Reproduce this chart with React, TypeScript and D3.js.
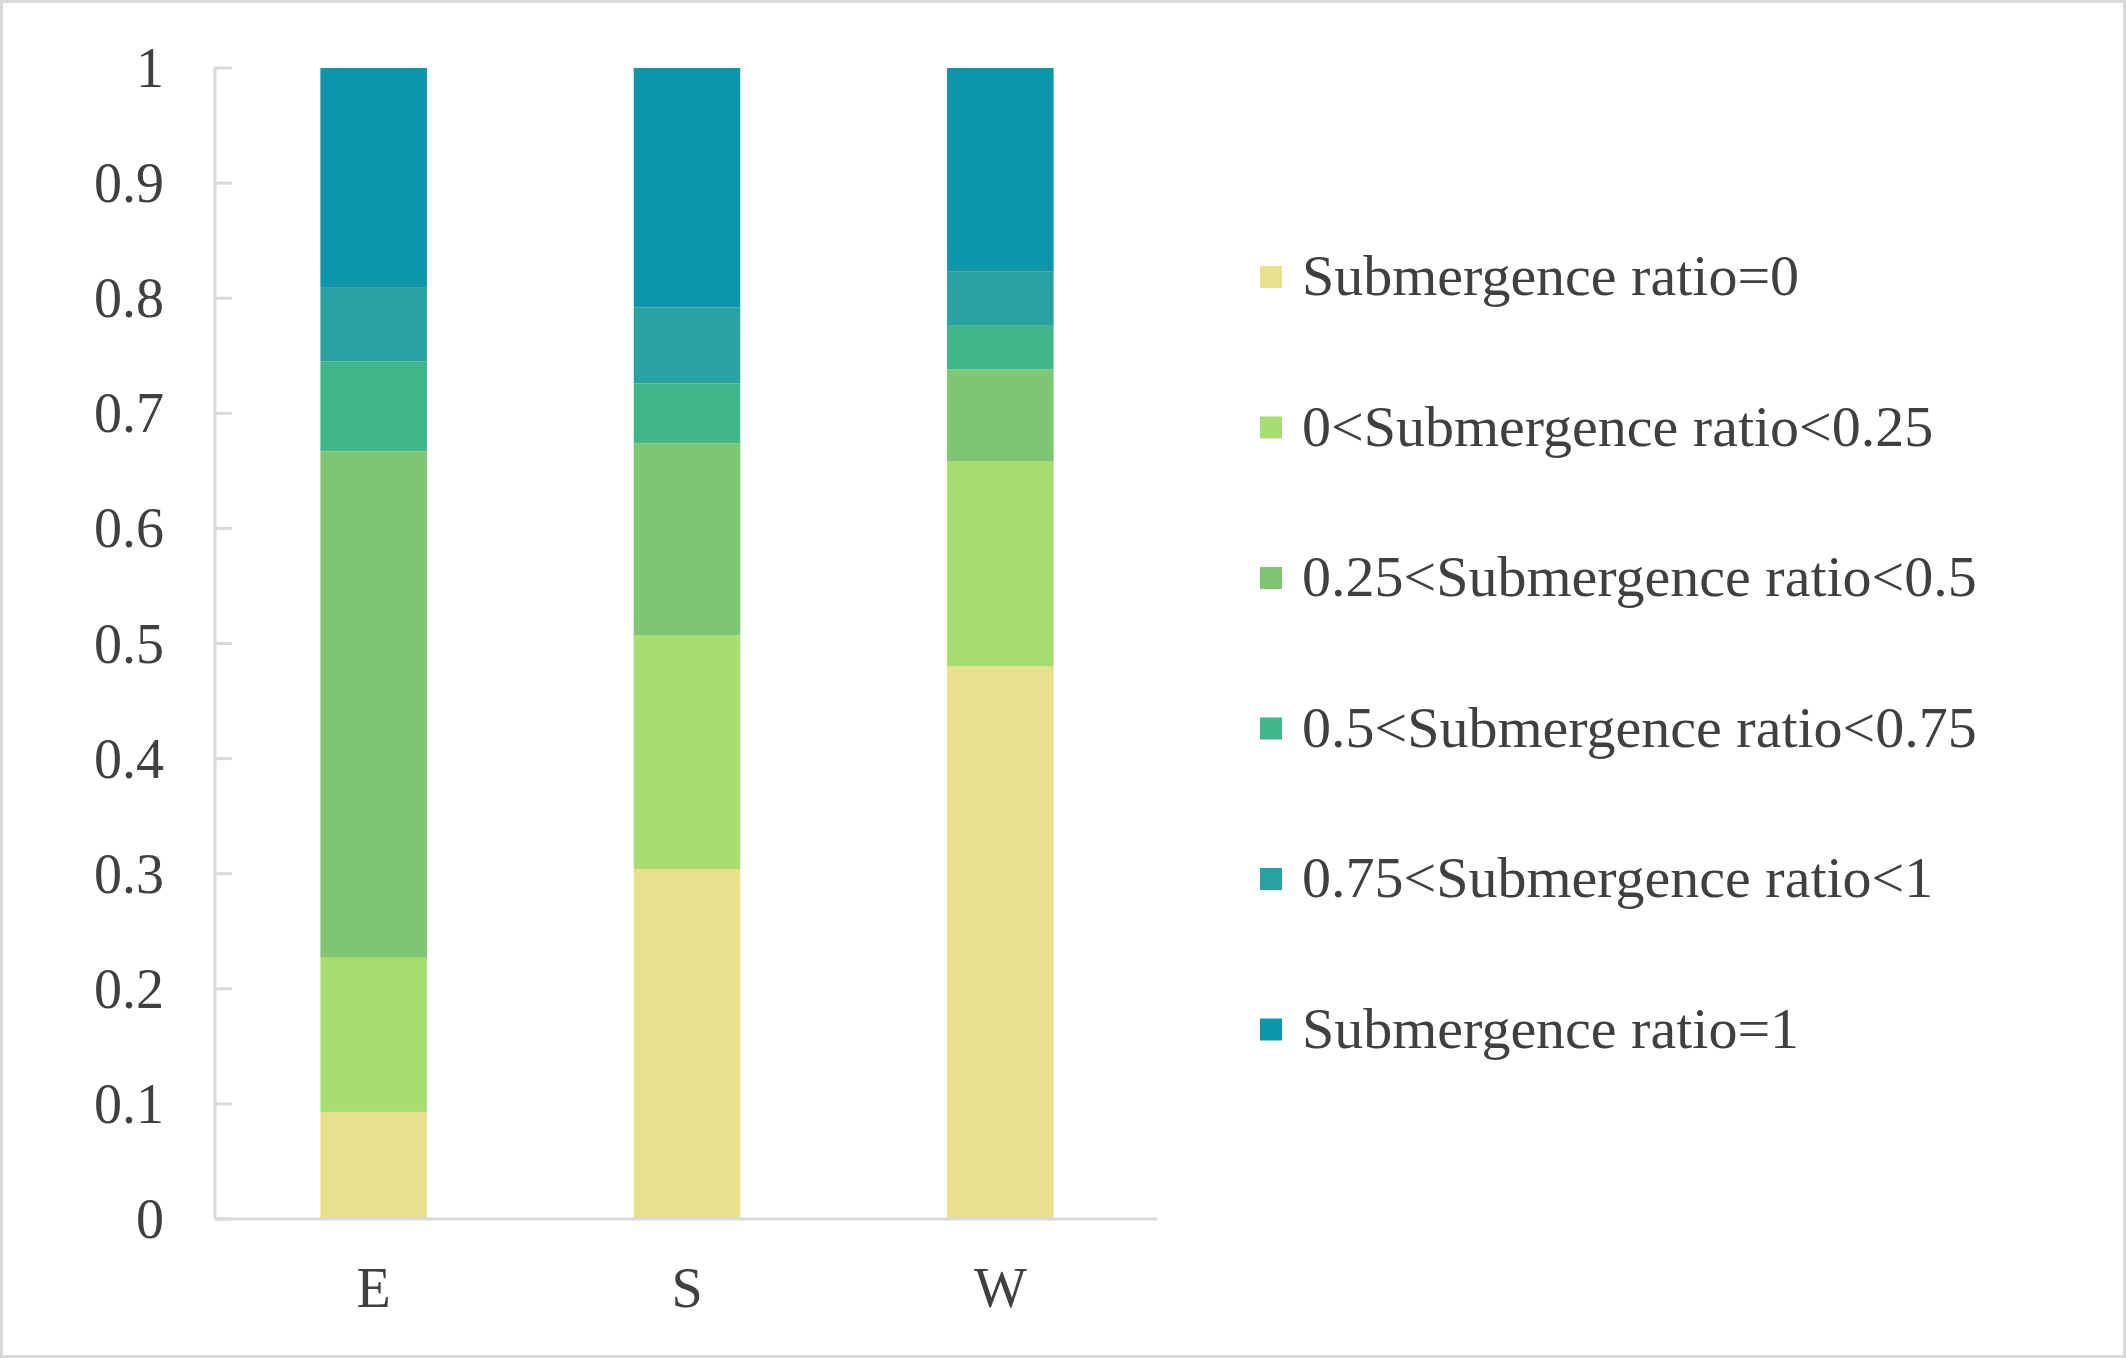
import React from "react";
import * as d3 from "d3";

const categories = ["E", "S", "W"];
const seriesNames = [
  "Submergence ratio=0",
  "0<Submergence ratio<0.25",
  "0.25<Submergence ratio<0.5",
  "0.5<Submergence ratio<0.75",
  "0.75<Submergence ratio<1",
  "Submergence ratio=1",
];
const seriesColors = ["#E9E08D", "#A7DE72", "#7FC672", "#3FB78B", "#28A3A2", "#0E97AA"];
// values per series, ordered E, S, W
const ratio0 = [0.093, 0.304, 0.48];
const ratio0to025 = [0.134, 0.203, 0.178];
const ratio025to05 = [0.44, 0.167, 0.08];
const ratio05to075 = [0.078, 0.052, 0.038];
const ratio075to1 = [0.064, 0.066, 0.047];
const ratio1 = [0.191, 0.208, 0.177];
const yTicks = [0, 0.1, 0.2, 0.3, 0.4, 0.5, 0.6, 0.7, 0.8, 0.9, 1];

const W = 2126;
const H = 1358;
const FONT = "'Liberation Serif', 'Times New Roman', serif";

export default function App() {
  const seriesValues = [ratio0, ratio0to025, ratio025to05, ratio05to075, ratio075to1, ratio1];
  const rows = categories.map((c, i) => {
    const r: any = { cat: c };
    seriesNames.forEach((s, j) => (r[s] = seriesValues[j][i]));
    return r;
  });
  const stacked = d3.stack<any>().keys(seriesNames)(rows);

  const axisX = 215;
  const x0 = 217;
  const x1 = 1157;
  const yBase = 1219;
  const yTop = 68;
  const x = d3.scaleBand().domain(categories).range([x0, x1]).paddingInner(0.66).paddingOuter(0.33);
  const y = d3.scaleLinear().domain([0, 1]).range([yBase, yTop]);

  const legendX = 1260;
  const legendY0 = 277;
  const legendStep = 150.5;
  const textColor = "#404040";

  return (
    <svg
      width={W}
      height={H}
      style={{ position: "absolute", left: 0, top: 0, display: "block", background: "#fff" }}
    >
      <rect x={0} y={0} width={W} height={H} fill="#fff" />
      <rect x={1.5} y={1.5} width={W - 3} height={H - 3} fill="none" stroke="#d9d9d9" strokeWidth={3} />
      {stacked.map((layer, j) => (
        <g key={j} fill={seriesColors[j]}>
          {layer.map((d: any, i: number) => (
            <rect
              key={i}
              x={x(d.data.cat)}
              width={x.bandwidth()}
              y={y(d[1])}
              height={y(d[0]) - y(d[1])}
            />
          ))}
        </g>
      ))}
      {/* y axis */}
      <line x1={axisX} x2={axisX} y1={yTop - 1} y2={yBase} stroke="#d9d9d9" strokeWidth={3} />
      {yTicks.map((t) => (
        <g key={t}>
          <line x1={axisX} x2={axisX + 17} y1={y(t)} y2={y(t)} stroke="#d9d9d9" strokeWidth={3} />
          <text
            x={164}
            y={y(t) + 19}
            textAnchor="end"
            fontFamily={FONT}
            fontSize={56}
            fill={textColor}
          >
            {d3.format("~g")(t)}
          </text>
        </g>
      ))}
      {/* x axis */}
      <line x1={axisX} x2={x1} y1={yBase} y2={yBase} stroke="#d9d9d9" strokeWidth={3} />
      {categories.map((c) => (
        <text
          key={c}
          x={(x(c) as number) + x.bandwidth() / 2}
          y={1307}
          textAnchor="middle"
          fontFamily={FONT}
          fontSize={56}
          fill={textColor}
        >
          {c}
        </text>
      ))}
      {/* legend */}
      {seriesNames.map((s, j) => (
        <g key={s}>
          <rect
            x={legendX}
            y={legendY0 + j * legendStep - 11}
            width={22}
            height={22}
            fill={seriesColors[j]}
          />
          <text
            x={1302}
            y={legendY0 + j * legendStep + 18}
            fontFamily={FONT}
            fontSize={58}
            fill={textColor}
          >
            {s}
          </text>
        </g>
      ))}
    </svg>
  );
}
